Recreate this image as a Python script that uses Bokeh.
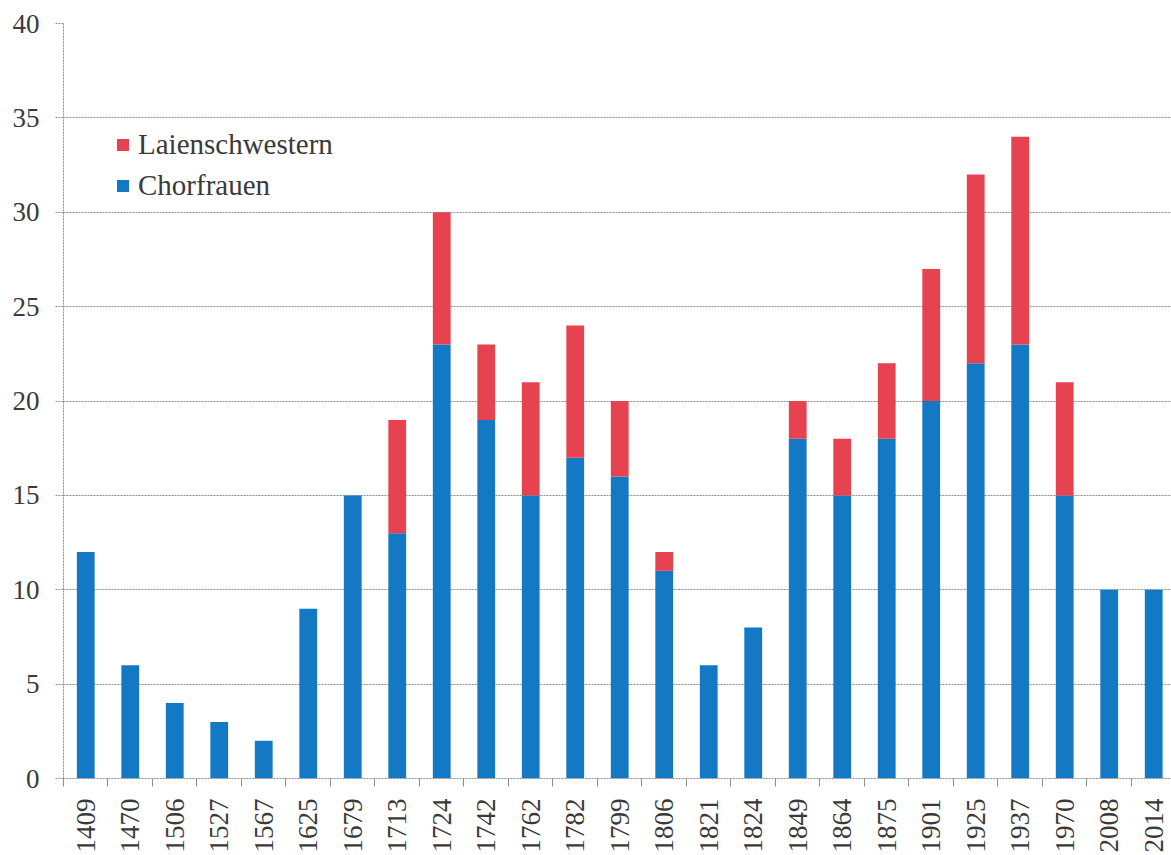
import math
from bokeh.plotting import figure
from bokeh.models import ColumnDataSource, FixedTicker, Legend, LegendItem, Range1d
from bokeh.embed import file_html
from bokeh.resources import INLINE

years = ["1409", "1470", "1506", "1527", "1567", "1625", "1679", "1713", "1724", "1742",
         "1762", "1782", "1799", "1806", "1821", "1824", "1849", "1864", "1875", "1901",
         "1925", "1937", "1970", "2008", "2014"]
chorfrauen = [12, 6, 4, 3, 2, 9, 15, 13, 23, 19, 15, 17, 16, 11, 6, 8, 18, 15, 18, 20, 22, 23, 15, 10, 10]
laienschwestern = [0, 0, 0, 0, 0, 0, 0, 6, 7, 4, 6, 7, 4, 1, 0, 0, 2, 3, 4, 7, 10, 11, 6, 0, 0]
y_ticks = [0, 5, 10, 15, 20, 25, 30, 35, 40]

BLUE = "#1479C4"
RED = "#E6424F"
FONT = "'Liberation Serif', 'Times New Roman', serif"
TXT = "#3a3a3a"
GRID = "#8f8f8f"

centers = [i + 0.5 for i in range(len(years))]
bounds = list(range(len(years) + 1))
src = ColumnDataSource(dict(x=centers, chor=chorfrauen, laien=laienschwestern))

p = figure(width=1171, height=855, output_backend="svg", toolbar_location=None,
           x_range=Range1d(0, 24.9), y_range=Range1d(0, 40),
           min_border_left=63, min_border_top=23, min_border_right=0, min_border_bottom=75)
p.outline_line_color = None
p.background_fill_color = "white"

rs = p.vbar_stack(["chor", "laien"], x="x", width=0.4, fill_color=[BLUE, RED],
                  line_color=None, source=src)

# y axis
p.yaxis.ticker = FixedTicker(ticks=y_ticks, minor_ticks=[])
p.yaxis.major_label_text_font = FONT
p.yaxis.major_label_text_font_size = "27px"
p.yaxis.major_label_text_color = TXT
p.yaxis.major_tick_out = 8
p.yaxis.major_tick_in = 0
p.yaxis.major_tick_line_color = GRID
p.yaxis.major_tick_line_dash = "2 1"
p.yaxis.axis_line_color = GRID
p.yaxis.axis_line_dash = "2 1"
p.yaxis.major_label_standoff = 16

# x axis
p.xaxis.ticker = FixedTicker(ticks=centers, minor_ticks=bounds)
p.xaxis.major_label_overrides = {c: y for c, y in zip(centers, years)}
p.xaxis.major_label_orientation = math.pi / 2
p.xaxis.major_label_text_font = FONT
p.xaxis.major_label_text_font_size = "27px"
p.xaxis.major_label_text_color = TXT
p.xaxis.major_tick_out = 0
p.xaxis.major_tick_in = 0
p.xaxis.minor_tick_out = 8
p.xaxis.minor_tick_in = 0
p.xaxis.minor_tick_line_color = GRID
p.xaxis.axis_line_color = GRID
p.xaxis.axis_line_dash = "2 1"
p.xaxis.major_label_standoff = 12

p.xgrid.visible = False
p.ygrid.grid_line_color = GRID
p.ygrid.grid_line_dash = "2 1"
p.ygrid.grid_line_width = 1

legend = Legend(items=[LegendItem(label="Laienschwestern", renderers=[rs[1]]),
                       LegendItem(label="Chorfrauen", renderers=[rs[0]])],
                location=(52, 576), orientation="vertical")
legend.label_text_font = FONT
legend.label_text_font_size = "29px"
legend.label_text_color = TXT
legend.glyph_width = 15
legend.glyph_height = 15
legend.label_standoff = 8
legend.spacing = 8
legend.padding = 0
legend.margin = 0
legend.border_line_color = None
legend.background_fill_alpha = 0
p.add_layout(legend, "center")

open("out.html", "w").write(file_html(p, INLINE))
